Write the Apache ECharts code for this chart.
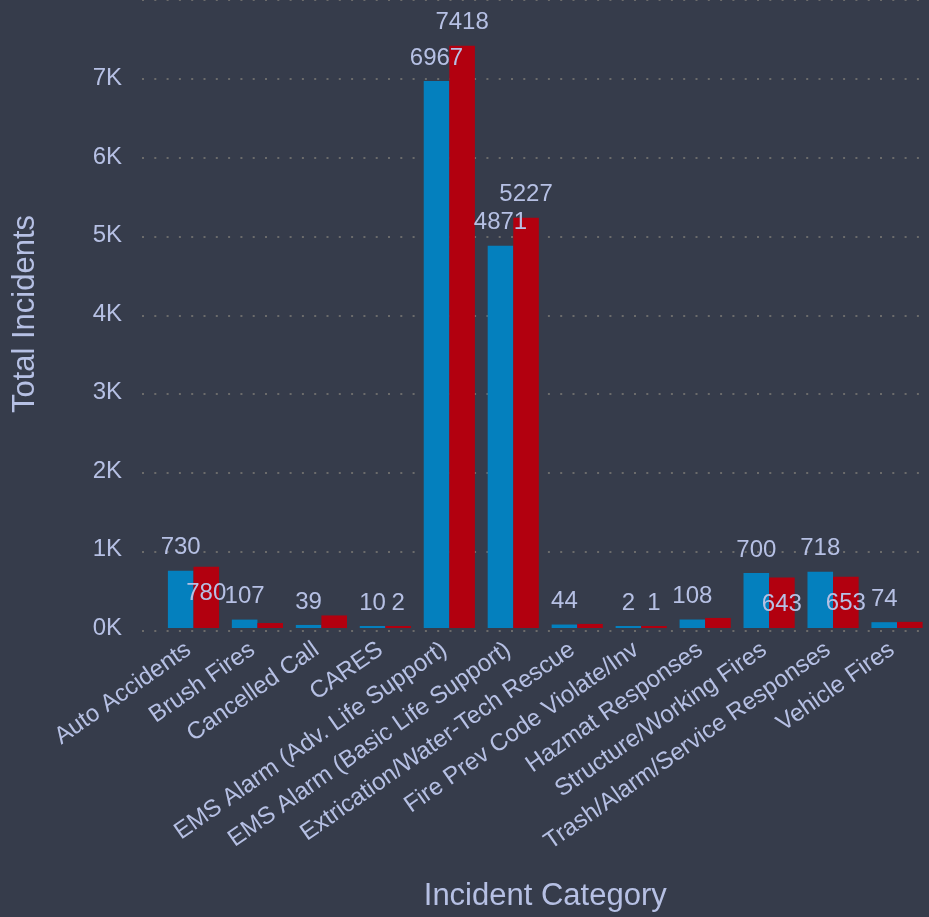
<!DOCTYPE html>
<html>
<head>
<meta charset="utf-8">
<script src="https://cdn.jsdelivr.net/npm/echarts@6/dist/echarts.min.js"></script>
<style>
html,body{margin:0;padding:0;background:#363c4b;}
#chart{width:929px;height:917px;}
</style>
</head>
<body>
<div id="chart"></div>
<script>
const categories = [
  "Auto Accidents",
  "Brush Fires",
  "Cancelled Call",
  "CARES",
  "EMS Alarm (Adv. Life Support)",
  "EMS Alarm (Basic Life Support)",
  "Extrication/Water-Tech Rescue",
  "Fire Prev Code Violate/Inv",
  "Hazmat Responses",
  "Structure/Working Fires",
  "Trash/Alarm/Service Responses",
  "Vehicle Fires"
];
const seriesBlue = [730, 107, 39, 10, 6967, 4871, 44, 2, 108, 700, 718, 74];
const seriesRed  = [780, 63, 160, 2, 7418, 5227, 52, 1, 128, 643, 653, 78];
const yTickMax = 8000;
const yTickStep = 1000;

const TEXT = '#b6c0e4';
const FONT = '"Liberation Sans", Arial, sans-serif';
const GRID_TOP = -2, GRID_BOTTOM = 286.5;

const chart = echarts.init(document.getElementById('chart'), null, {renderer: 'canvas'});

const labelStyle = {
  show: true, position: 'top', distance: 11,
  color: TEXT, fontSize: 24, fontFamily: FONT
};

const option = {
  backgroundColor: '#363c4b',
  animation: false,
  textStyle: {fontFamily: FONT},
  grid: [
    {left: 161.5, right: -9.5, top: GRID_TOP, bottom: GRID_BOTTOM},
    {left: 142, right: -9.5, top: GRID_TOP, bottom: GRID_BOTTOM}
  ],
  xAxis: [
    {
      type: 'category', gridIndex: 0, data: categories,
      axisLine: {show: false}, axisTick: {show: false},
      axisLabel: {
        rotate: 35, color: TEXT, fontSize: 24, fontFamily: FONT,
        margin: 16, padding: [0, 6, 0, 0], interval: 0
      },
      name: 'Incident Category', nameLocation: 'middle', nameGap: 253,
      nameTextStyle: {color: TEXT, fontSize: 31, fontFamily: FONT}
    },
    {type: 'value', gridIndex: 1, min: 0, max: 1, show: false}
  ],
  yAxis: [
    {
      type: 'value', gridIndex: 0, min: 0, max: yTickMax, interval: yTickStep,
      axisLine: {show: false}, axisTick: {show: false},
      splitLine: {show: false},
      axisLabel: {
        color: TEXT, fontSize: 24, fontFamily: FONT, margin: 39.5, showMaxLabel: false,
        formatter: v => (v / 1000) + 'K'
      },
      name: 'Total Incidents', nameLocation: 'middle', nameGap: 121,
      nameTextStyle: {color: TEXT, fontSize: 31, fontFamily: FONT}
    },
    {
      type: 'value', gridIndex: 1, min: 0, max: yTickMax, interval: yTickStep,
      axisLine: {show: false}, axisTick: {show: false}, axisLabel: {show: false},
      splitLine: {show: true, lineStyle: {color: '#6b6b6b', width: 2, type: [2, 10.3]}}
    }
  ],
  series: [
    {
      name: 'Blue', type: 'bar', xAxisIndex: 0, yAxisIndex: 0,
      data: seriesBlue, barGap: '0%', barCategoryGap: '20%', barMinHeight: 2,
      itemStyle: {color: '#0480be'}, label: labelStyle
    },
    {
      name: 'Red', type: 'bar', xAxisIndex: 0, yAxisIndex: 0,
      data: seriesRed, barGap: '0%', barCategoryGap: '20%', barMinHeight: 2,
      itemStyle: {color: '#b2000f'}, label: labelStyle
    }
  ]
};
chart.setOption(option);

// Resolve colliding value labels of the second series, using the chart's own scale.
const py = v => chart.convertToPixel({gridIndex: 0}, [0, v])[1];
const redData = seriesRed.map((r, i) => {
  const b = seriesBlue[i];
  const gap = Math.abs(py(r) - py(b));
  const narrow = (String(r).length + String(b).length) <= 3;
  if (gap >= 26 || narrow) return r;
  const barH = py(0) - py(r);
  if (barH >= 40) return {value: r, label: {position: 'insideTop', distance: 15}};
  return {value: r, label: {show: false}};
});
chart.setOption({series: [{}, {data: redData}]});
</script>
</body>
</html>
